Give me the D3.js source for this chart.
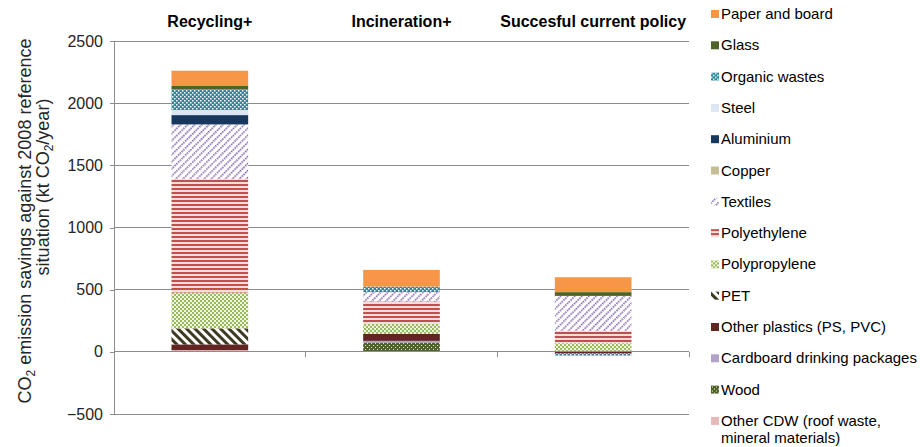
<!DOCTYPE html>
<html>
<head>
<meta charset="utf-8">
<script src="https://cdn.jsdelivr.net/npm/d3@7"></script>
<style>
  body { margin: 0; background: #fff; }
  svg { display: block; font-family: "Liberation Sans", Arial, sans-serif; }
</style>
</head>
<body>
<svg id="chart" width="920" height="447"></svg>
<script>
// ---- Data ----
const categories = ["Recycling+", "Incineration+", "Succesful current policy"];
const yTicks = [-500, 0, 500, 1000, 1500, 2000, 2500];

// series in stacking order (bottom to top)
const otherCDW      = [14, 0, 0];
const wood          = [0, 75, 0];
const cardboard     = [0, 13, 0];
const otherPlastics = [46, 57, -10];
const pet           = [129, 0, 0];
const polypropylene = [289, 78, 70];
const polyethylene  = [911, 182, 99];
const textiles      = [440, 75, 281];
const copper        = [0, 0, 0];
const aluminium     = [75, 0, 0];
const steel         = [41, 0, 0];
const organic       = [166, 45, -20];
const glass         = [27, 0, 30];
const paper         = [123, 134, 120];

const seriesNames = ["Other CDW (roof waste, mineral materials)", "Wood", "Cardboard drinking packages",
  "Other plastics (PS, PVC)", "PET", "Polypropylene", "Polyethylene", "Textiles", "Copper",
  "Aluminium", "Steel", "Organic wastes", "Glass", "Paper and board"];
const seriesValues = [otherCDW, wood, cardboard, otherPlastics, pet, polypropylene, polyethylene,
  textiles, copper, aluminium, steel, organic, glass, paper];
const seriesFills = ["#E6B9B8", "url(#pWood)", "#B3A2C7", "#632523", "url(#pPet)", "url(#pPP)",
  "url(#pPE)", "url(#pTex)", "#C4BD97", "#17375E", "#DCE6F2", "url(#pOrg)", "#4F6228", "#F79646"];

// ---- Build ----
const svg = d3.select("#chart");
const defs = svg.append("defs");

function pat(id, w, h, transform) {
  const p = defs.append("pattern").attr("id", id).attr("patternUnits", "userSpaceOnUse")
    .attr("width", w).attr("height", h);
  if (transform) p.attr("patternTransform", transform);
  return p;
}
// Organic wastes: teal with white dots
let p = pat("pOrg", 4, 4);
p.append("rect").attr("width", 4).attr("height", 4).attr("fill", "#31859C");
p.append("rect").attr("x", 0).attr("y", 0).attr("width", 1.5).attr("height", 1.5).attr("fill", "#fff");
p.append("rect").attr("x", 2).attr("y", 2).attr("width", 1.5).attr("height", 1.5).attr("fill", "#fff");
// Textiles: dashed purple upward diagonal
p = pat("pTex", 5, 5, "rotate(45)");
p.append("rect").attr("width", 5).attr("height", 5).attr("fill", "#fff");
p.append("line").attr("x1", 0.8).attr("x2", 0.8).attr("y1", 0).attr("y2", 5)
  .attr("stroke", "#7A5CA6").attr("stroke-width", 1.7).attr("stroke-dasharray", "1.5,1");
// Polyethylene: red horizontal stripes
p = pat("pPE", 4, 4);
p.append("rect").attr("width", 4).attr("height", 4).attr("fill", "#f6dcdc");
p.append("rect").attr("width", 4).attr("height", 2).attr("fill", "#C0504D");
// Polypropylene: green checker
p = pat("pPP", 4, 4);
p.append("rect").attr("width", 4).attr("height", 4).attr("fill", "#eef4e2");
p.append("rect").attr("width", 2).attr("height", 2).attr("fill", "#9BBB59");
p.append("rect").attr("x", 2).attr("y", 2).attr("width", 2).attr("height", 2).attr("fill", "#9BBB59");
// PET: dark downward diagonal
p = pat("pPet", 6, 6, "rotate(-45)");
p.append("rect").attr("width", 6).attr("height", 6).attr("fill", "#fff");
p.append("rect").attr("width", 3).attr("height", 6).attr("fill", "#3E3A22");
// Wood: green trellis
p = pat("pWood", 4, 4);
p.append("rect").attr("width", 4).attr("height", 4).attr("fill", "#4F6228");
p.append("rect").attr("x", 1).attr("y", 1).attr("width", 1).attr("height", 1).attr("fill", "#dfe8cf");
p.append("rect").attr("x", 3).attr("y", 3).attr("width", 1).attr("height", 1).attr("fill", "#dfe8cf");

const x = d3.scaleBand().domain(categories).range([114, 689]).paddingInner(0.6).paddingOuter(0.3);
const y = d3.scaleLinear().domain([-500, 2500]).range([414, 41]);

const gridColor = "#8c8c8c";

// gridlines
svg.append("g").selectAll("line").data(yTicks.filter(d => d !== 0)).join("line")
  .attr("x1", 114).attr("x2", 689).attr("y1", d => y(d)).attr("y2", d => y(d))
  .attr("stroke", gridColor).attr("stroke-width", 1).attr("shape-rendering", "crispEdges");

// y axis
const yAxis = svg.append("g").attr("transform", "translate(114,0)")
  .call(d3.axisLeft(y).tickValues(yTicks).tickSize(4).tickPadding(7).tickFormat(d3.format("d")));
yAxis.select(".domain").attr("stroke", gridColor).attr("shape-rendering", "crispEdges");
yAxis.selectAll(".tick line").attr("stroke", gridColor).attr("shape-rendering", "crispEdges");
yAxis.selectAll("text").attr("font-size", 16).attr("fill", "#262626")
  .attr("font-family", "'Liberation Sans', Arial, sans-serif");

// data table for stack
const table = categories.map((c, i) => {
  const o = { cat: c };
  seriesNames.forEach((s, j) => { o[s] = seriesValues[j][i]; });
  return o;
});
const stack = d3.stack().keys(seriesNames).offset(d3.stackOffsetDiverging);
const stacked = stack(table);

svg.append("g").selectAll("g").data(stacked).join("g")
  .attr("fill", (d, i) => seriesFills[i])
  .selectAll("rect").data(d => d).join("rect")
  .attr("x", d => x(d.data.cat))
  .attr("width", x.bandwidth())
  .attr("y", d => y(Math.max(d[0], d[1])))
  .attr("height", d => Math.abs(y(d[0]) - y(d[1])));

// x axis at zero
const xAxisG = svg.append("g");
xAxisG.append("line").attr("x1", 114).attr("x2", 689).attr("y1", y(0)).attr("y2", y(0))
  .attr("stroke", gridColor).attr("shape-rendering", "crispEdges");
const boundaries = [0, 1, 2, 3].map(i => 114 + i * x.step());
xAxisG.selectAll(".xt").data(boundaries).join("line")
  .attr("x1", d => d).attr("x2", d => d).attr("y1", y(0)).attr("y2", y(0) + 5)
  .attr("stroke", gridColor).attr("shape-rendering", "crispEdges");

// category labels at top
svg.append("g").selectAll("text").data(categories).join("text")
  .attr("x", d => x(d) + x.bandwidth() / 2).attr("y", 27)
  .attr("text-anchor", "middle").attr("font-weight", "bold").attr("font-size", 16)
  .attr("fill", "#000").text(d => d);

// y title
const t1 = svg.append("text").attr("transform", "translate(31,221) rotate(-90)")
  .attr("text-anchor", "middle").attr("font-size", 18).attr("fill", "#262626");
t1.append("tspan").text("CO");
t1.append("tspan").attr("font-size", 12).attr("dy", 4).text("2");
t1.append("tspan").attr("dy", -4).text(" emission savings against 2008 reference");
const t2 = svg.append("text").attr("transform", "translate(49,187) rotate(-90)")
  .attr("text-anchor", "middle").attr("font-size", 18).attr("fill", "#262626");
t2.append("tspan").text("situation (kt CO");
t2.append("tspan").attr("font-size", 12).attr("dy", 4).text("2");
t2.append("tspan").attr("dy", -4).text("/year)");

// legend (reverse order: top series first)
const legendItems = seriesNames.map((s, i) => ({ name: s, fill: seriesFills[i] })).reverse();
const lg = svg.append("g").selectAll("g").data(legendItems).join("g")
  .attr("transform", (d, i) => `translate(711,${14 + i * 31.3})`);
lg.append("rect").attr("x", 0).attr("y", -4).attr("width", 8).attr("height", 8).attr("fill", d => d.fill);
lg.each(function(d) {
  const g = d3.select(this);
  const txt = g.append("text").attr("x", 10).attr("y", 5).attr("font-size", 15).attr("fill", "#000");
  if (d.name.startsWith("Other CDW")) {
    txt.append("tspan").attr("x", 10).text("Other CDW (roof waste,");
    txt.append("tspan").attr("x", 10).attr("dy", 17).text("mineral materials)");
  } else {
    txt.text(d.name);
  }
});
</script>
</body>
</html>
